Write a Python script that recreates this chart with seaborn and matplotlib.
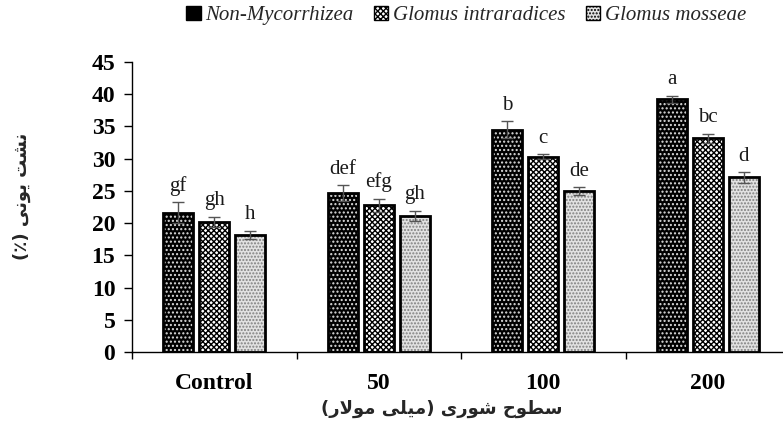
import numpy as np
import pandas as pd
import matplotlib
matplotlib.use("Agg")
import matplotlib.pyplot as plt
from matplotlib.patches import Patch, Rectangle
import seaborn as sns

# ── data ───────────────────────────────────────────────────────────────────
levels = ["Control", "50", "100", "200"]
series = ["Non-Mycorrhizea", "Glomus intraradices", "Glomus mosseae"]
non_myc = [21.6, 24.7, 34.5, 39.2]
g_intra = [20.2, 22.8, 30.3, 33.2]
g_moss = [18.2, 21.1, 25.0, 27.1]
err_non = [1.6, 1.2, 1.3, 0.6]
err_intra = [0.8, 1.0, 0.4, 0.7]
err_moss = [0.6, 0.8, 0.6, 0.8]
letters_non = ["gf", "def", "b", "a"]
letters_intra = ["gh", "efg", "c", "bc"]
letters_moss = ["h", "gh", "de", "d"]

# Persian labels, pre-shaped (presentation forms, visual order) since
# matplotlib does no Arabic shaping / bidi
ylab_fa = "(\u066a) " + "\ufef0\ufee7\ufeee\ufef3" + " " + "\ufe96\ufeb8\ufee7"
xlab_fa = ("(" + "\ufead\ufefb\ufeee\ufee3" + " " + "\ufef0\ufee0\ufef4\ufee3" + ") "
           + "\ufeef\ufead\ufeee\ufeb7" + " " + "\ufea1\ufeee\ufec4\ufeb3")

df = pd.DataFrame({
    "level": levels * 3,
    "series": np.repeat(series, len(levels)),
    "value": non_myc + g_intra + g_moss,
})
errs = [err_non, err_intra, err_moss]
letters = [letters_non, letters_intra, letters_moss]

# face colour, hatch, hatch colour per series
styles = [("#000000", "....", "#dddddd"),
          ("#ffffff", "xxxxxx", "#000000"),
          ("#e2e2e2", ".....", "#808080")]

sns.set_theme(style="white")
plt.rcParams["hatch.linewidth"] = 1.0
serif = ["Liberation Serif", "DejaVu Serif"]

fig = plt.figure(figsize=(7.83, 4.41), dpi=100)
ax = fig.add_axes([132 / 783, 1 - 352 / 441, 658 / 783, 290 / 441])

sns.barplot(data=df, x="level", y="value", hue="series", order=levels,
            hue_order=series, palette=["#000000"] * 3, errorbar=None,
            width=0.66, gap=0.17, legend=False, ax=ax)

bar_conts = list(ax.containers)
for i, cont in enumerate(bar_conts):
    face, hatch, hcol = styles[i]
    xs, ys = [], []
    for bar in cont:
        bar.set_facecolor(face)
        bar.set_hatch(hatch)
        bar.set_edgecolor(hcol)
        bar.set_linewidth(0)
        x0, w, h = bar.get_x(), bar.get_width(), bar.get_height()
        ax.add_patch(Rectangle((x0, 0), w, h, fill=False, edgecolor="black",
                               linewidth=2.0, zorder=3))
        xs.append(x0 + w / 2)
        ys.append(h)
    ax.errorbar(xs, ys, yerr=errs[i], fmt="none", ecolor="#555555",
                elinewidth=1, capsize=4, capthick=1, zorder=4)
    for x, y, e, t in zip(xs, ys, errs[i], letters[i]):
        ax.text(x, y + e + 1.0, t, ha="center", va="bottom",
                fontsize=15, family=serif, color="#1a1a1a")

ax.set_xlabel("")
ax.set_ylabel("")
ax.set_xlim(-0.5, 3.5)
ax.set_ylim(0, 45)
ax.set_yticks(np.arange(0, 46, 5))
ax.set_xticks(range(len(levels)))
ax.set_xticklabels(levels)
ax.set_xticks([-0.5, 0.5, 1.5, 2.5, 3.5], minor=True)
ax.tick_params(axis="x", which="major", length=0, pad=15)
ax.tick_params(axis="x", which="minor", length=5, width=1, color="black",
               direction="out", bottom=True)
ax.tick_params(axis="y", length=6, width=1, color="black", direction="out",
               left=True, pad=6)
for lab in ax.get_xticklabels() + ax.get_yticklabels():
    lab.set_fontfamily(serif)
    lab.set_fontweight("bold")
    lab.set_fontsize(17)
    lab.set_color("black")

for s in ["top", "right"]:
    ax.spines[s].set_visible(False)
for s in ["left", "bottom"]:
    ax.spines[s].set_color("black")
    ax.spines[s].set_linewidth(1)

fig.text(442 / 783, 1 - 409 / 441, xlab_fa, family=["DejaVu Sans"],
         fontweight="bold", fontsize=13, ha="center", va="center")
fig.text(22 / 783, 1 - 196 / 441, ylab_fa, family=["DejaVu Sans"],
         fontweight="bold", fontsize=13, ha="center", va="center",
         rotation=90)

handles = [Patch(facecolor=f, hatch=h, edgecolor="black", linewidth=1)
           for f, h, _ in styles]
fig.legend(handles, series, loc="center", bbox_to_anchor=(0.595, 0.965),
           ncol=3, frameon=False, handlelength=0.7, handleheight=0.7,
           handletextpad=0.2, columnspacing=1.0,
           prop={"family": serif, "style": "italic", "size": 15})

fig.savefig("out.png", dpi=100)
